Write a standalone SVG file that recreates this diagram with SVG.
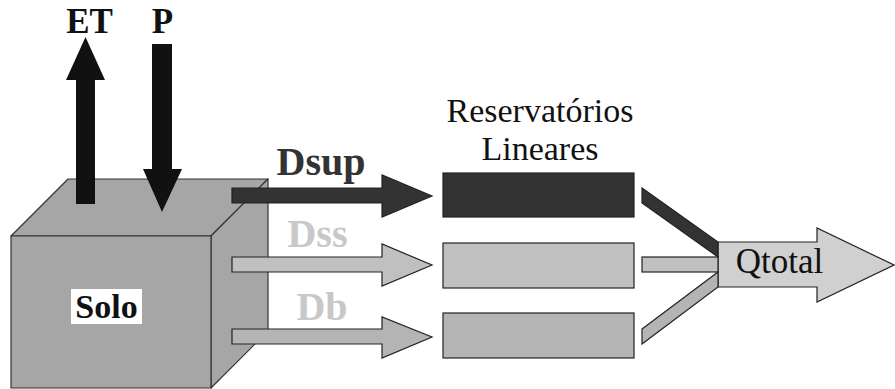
<svg xmlns="http://www.w3.org/2000/svg" width="895" height="389" viewBox="0 0 895 389">
<style>
.t{font-family:"Liberation Serif","Times New Roman",serif;text-anchor:middle}
.b{font-weight:bold}
.face{fill:#a6a6a6;stroke:#333;stroke-width:1.2;stroke-linejoin:round}
.ln{stroke:#222;stroke-width:1.2;stroke-linejoin:miter}
</style>
<rect width="895" height="389" fill="#fff"/>
<g id="solo">
<polygon class="face" points="11,236 68,179 268,179 211,236"/>
<polygon class="face" points="211,236 268,179 268,331 211,388" fill="#a2a2a2"/>
<rect class="face" x="11" y="236" width="200" height="152"/>
<rect x="71" y="289" width="71" height="35" fill="#fff"/>
<text class="t b" x="106.5" y="318" font-size="34" fill="#111">Solo</text>
</g>
<g id="connectors">
<g id="et">
<polygon points="76,204 76,80 66,80 85.5,37 105,80 95,80 95,204" fill="#111"/>
<text class="t b" x="89.5" y="33" font-size="35" fill="#111">ET</text>
</g>
<g id="p">
<polygon points="152,44 172,44 172,169 182,169 162,212 143,169 152,169" fill="#111"/>
<text class="t b" x="162.5" y="33" font-size="35" fill="#111">P</text>
</g>
<g id="dsup">
<polygon class="ln" points="232,188 382,188 382,175 432,196 382,217 382,203 232,203" fill="#333"/>
<text class="t b" x="321" y="175" font-size="40" fill="#333">Dsup</text>
</g>
<g id="dss">
<polygon class="ln" points="232,257 382,257 382,244 432,265 382,286 382,272 232,272" fill="#c0c0c0"/>
<text class="t b" x="317.5" y="247" font-size="40" fill="#c8c8c8">Dss</text>
</g>
<g id="db">
<polygon class="ln" points="232,329 382,329 382,317 432,337 382,358 382,344 232,344" fill="#b4b4b4"/>
<text class="t b" x="322" y="320" font-size="40" fill="#c8c8c8">Db</text>
</g>
<g id="qtotal">
<polygon class="ln" points="718,242 817,242 817,228 894,265 817,302 817,287 718,287" fill="#d0d0d0"/>
<text class="t" x="779.5" y="273" font-size="35" fill="#111">Qtotal</text>
</g>
<polygon class="ln" points="642,188 718,242 718,257 642,203" fill="#333"/>
<rect class="ln" x="642" y="257" width="76" height="15" fill="#c0c0c0"/>
<polygon class="ln" points="642,329 718,272 718,287 642,344" fill="#b4b4b4"/>
</g>
<g id="reservatorios">
<text class="t" x="540" y="122" font-size="34" fill="#111">Reservatórios</text>
<text class="t" x="540" y="160" font-size="34" fill="#111">Lineares</text>
<rect id="r1" class="ln" x="443" y="173" width="191" height="44" fill="#333"/>
<rect id="r2" class="ln" x="443" y="243" width="191" height="45" fill="#c0c0c0"/>
<rect id="r3" class="ln" x="443" y="313" width="191" height="45" fill="#b4b4b4"/>
</g>
</svg>
